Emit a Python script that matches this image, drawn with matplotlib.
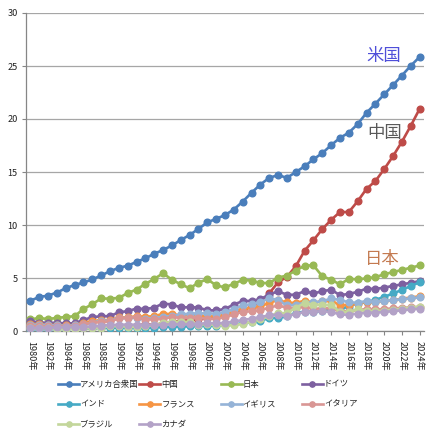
import numpy as np
import matplotlib
matplotlib.use("Agg")
import matplotlib.pyplot as plt
from matplotlib.lines import Line2D

plt.rcParams['font.family'] = ['Noto Sans CJK JP', 'DejaVu Sans']

# 名目GDP（兆ドル）1980-2024
years = list(range(1980, 2025))

usa = [2.86, 3.21, 3.34, 3.63, 4.04, 4.34, 4.58, 4.86, 5.24, 5.64,
       5.96, 6.16, 6.52, 6.86, 7.29, 7.64, 8.07, 8.58, 9.06, 9.63,
       10.25, 10.58, 10.94, 11.46, 12.21, 13.04, 13.82, 14.45, 14.71, 14.45,
       14.99, 15.54, 16.20, 16.78, 17.53, 18.22, 18.71, 19.52, 20.58, 21.44,
       22.32, 23.20, 24.10, 25.02, 25.85]
china = [0.31, 0.29, 0.28, 0.31, 0.31, 0.31, 0.30, 0.33, 0.41, 0.46,
         0.40, 0.42, 0.50, 0.62, 0.57, 0.74, 0.87, 0.97, 1.03, 1.10,
         1.21, 1.34, 1.47, 1.66, 1.96, 2.29, 2.75, 3.55, 4.60, 5.11,
         6.10, 7.57, 8.56, 9.61, 10.48, 11.23, 11.22, 12.24, 13.41, 14.14,
         15.27, 16.50, 17.85, 19.35, 20.95]
japan = [1.11, 1.22, 1.13, 1.24, 1.32, 1.40, 2.08, 2.53, 3.07, 3.05,
         3.13, 3.58, 3.91, 4.45, 4.91, 5.45, 4.83, 4.41, 4.03, 4.56,
         4.89, 4.30, 4.12, 4.45, 4.82, 4.76, 4.53, 4.52, 5.04, 5.23,
         5.70, 6.16, 6.20, 5.16, 4.85, 4.39, 4.93, 4.86, 4.97, 5.08,
         5.35, 5.56, 5.76, 5.97, 6.18]
germany = [0.95, 0.80, 0.78, 0.77, 0.72, 0.73, 1.05, 1.30, 1.40, 1.40,
           1.77, 1.87, 2.12, 2.07, 2.21, 2.59, 2.50, 2.22, 2.25, 2.21,
           1.95, 1.95, 2.08, 2.50, 2.82, 2.85, 3.00, 3.44, 3.75, 3.42,
           3.42, 3.76, 3.54, 3.75, 3.90, 3.38, 3.50, 3.69, 4.00, 3.96,
           4.10, 4.25, 4.40, 4.55, 4.70]
india = [0.19, 0.20, 0.20, 0.22, 0.22, 0.24, 0.25, 0.28, 0.30, 0.30,
         0.33, 0.28, 0.29, 0.28, 0.33, 0.37, 0.40, 0.42, 0.43, 0.47,
         0.48, 0.49, 0.52, 0.62, 0.72, 0.83, 0.95, 1.24, 1.22, 1.37,
         1.71, 1.82, 1.83, 1.86, 2.04, 2.10, 2.29, 2.65, 2.72, 2.94,
         3.22, 3.54, 3.88, 4.24, 4.60]
france = [0.70, 0.62, 0.59, 0.56, 0.53, 0.56, 0.77, 0.94, 1.03, 1.03,
          1.28, 1.28, 1.40, 1.34, 1.41, 1.61, 1.61, 1.46, 1.51, 1.49,
          1.37, 1.38, 1.49, 1.84, 2.12, 2.20, 2.32, 2.66, 2.92, 2.69,
          2.64, 2.86, 2.68, 2.81, 2.85, 2.44, 2.47, 2.59, 2.78, 2.71,
          2.81, 2.92, 3.04, 3.16, 3.27]
uk = [0.60, 0.58, 0.55, 0.52, 0.49, 0.53, 0.64, 0.80, 0.96, 0.98,
      1.20, 1.24, 1.27, 1.13, 1.23, 1.34, 1.42, 1.56, 1.64, 1.67,
      1.66, 1.64, 1.79, 2.06, 2.42, 2.52, 2.71, 3.09, 2.93, 2.41,
      2.48, 2.66, 2.70, 2.79, 3.07, 2.93, 2.70, 2.67, 2.83, 2.74,
      2.83, 2.91, 3.00, 3.08, 3.17]
italy = [0.48, 0.43, 0.43, 0.44, 0.44, 0.45, 0.63, 0.78, 0.86, 0.90,
         1.18, 1.25, 1.32, 1.07, 1.10, 1.17, 1.31, 1.24, 1.27, 1.25,
         1.15, 1.17, 1.28, 1.58, 1.81, 1.86, 1.95, 2.21, 2.41, 2.20,
         2.14, 2.29, 2.09, 2.14, 2.16, 1.84, 1.88, 1.96, 2.09, 2.03,
         2.08, 2.13, 2.18, 2.23, 2.28]
brazil = [0.24, 0.26, 0.28, 0.20, 0.21, 0.22, 0.27, 0.29, 0.33, 0.45,
          0.47, 0.41, 0.39, 0.44, 0.56, 0.77, 0.85, 0.88, 0.86, 0.60,
          0.66, 0.56, 0.51, 0.56, 0.67, 0.89, 1.11, 1.40, 1.70, 1.67,
          2.21, 2.62, 2.47, 2.47, 2.46, 1.80, 1.80, 2.05, 1.87, 1.85,
          1.92, 2.00, 2.10, 2.20, 2.30]
canada = [0.27, 0.31, 0.31, 0.34, 0.36, 0.37, 0.38, 0.43, 0.51, 0.57,
          0.59, 0.61, 0.59, 0.58, 0.58, 0.60, 0.63, 0.65, 0.63, 0.68,
          0.74, 0.74, 0.76, 0.90, 1.03, 1.17, 1.32, 1.47, 1.55, 1.38,
          1.62, 1.79, 1.83, 1.85, 1.81, 1.56, 1.53, 1.65, 1.71, 1.73,
          1.80, 1.87, 1.95, 2.03, 2.11]

names = ["アメリカ合衆国", "中国", "日本", "ドイツ", "インド",
         "フランス", "イギリス", "イタリア", "ブラジル", "カナダ"]
series = [usa, china, japan, germany, india, france, uk, italy, brazil, canada]
colors = ["#4A7EBB", "#BE4B48", "#98B954", "#7D60A0", "#46AAC5",
          "#F69544", "#95B3D7", "#D99694", "#C3D69B", "#B3A2C7"]

W, H = 432, 436
fig = plt.figure(figsize=(W / 100, H / 100), dpi=100)
ax = fig.add_axes([26 / W, (H - 331) / H, 398 / W, 318 / H])

x = np.arange(len(years))
for i, (vals, c) in enumerate(zip(series, colors)):
    ax.plot(x, vals, color=c, lw=1.9, marker="o", ms=4.8, mec=c, zorder=3 + i)

ax.set_xlim(-0.5, len(years) - 0.5)
ax.set_ylim(0, 30)
ax.set_yticks(range(0, 31, 5))
ax.set_xticks(x[::2])
ax.set_xticklabels([f"{y}年" for y in years[::2]], rotation=270,
                   ha="center", va="top")
ax.tick_params(axis="both", labelsize=6.6, labelcolor="#222222",
               color="#868686", length=3, width=0.8)
ax.tick_params(axis="x", pad=4)
ax.tick_params(axis="y", pad=3)

ax.grid(axis="y", color="#A6A6A6", lw=0.9)
ax.set_axisbelow(True)
for s in ["top", "right"]:
    ax.spines[s].set_visible(False)
for s in ["left", "bottom"]:
    ax.spines[s].set_color("#868686")
    ax.spines[s].set_linewidth(0.9)

# ラベル
ax.text(years.index(2020), 25.95, "米国", color="#4F4FD9", fontsize=12.5,
        ha="center", va="center")
ax.text(years.index(2020), 18.65, "中国", color="#595959", fontsize=12.5,
        ha="center", va="center")
ax.text(years.index(2020) - 0.2, 6.75, "日本", color="#C47A50", fontsize=12.5,
        ha="center", va="center")

# 凡例（4列）
for i, (name, c) in enumerate(zip(names, colors)):
    row, col = divmod(i, 4)
    x0 = (58 + col * 81.3) / W
    y0 = 1 - (384 + row * 20) / H
    fig.add_artist(Line2D([x0, x0 + 21 / W], [y0, y0], color=c, lw=1.9,
                          transform=fig.transFigure))
    fig.add_artist(Line2D([x0 + 10.5 / W], [y0], color=c, marker="o", ms=3.8,
                          transform=fig.transFigure))
    fig.text(x0 + 22 / W, y0, name, fontsize=6.0, color="#222222",
             ha="left", va="center")

fig.savefig("out.png", dpi=100)
